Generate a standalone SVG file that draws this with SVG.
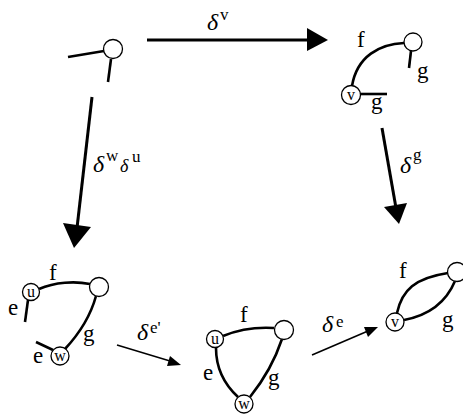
<svg xmlns="http://www.w3.org/2000/svg" width="463" height="415" viewBox="0 0 463 415">
<style>
.n{fill:#fff;stroke:#000;stroke-width:1.3}
.e{fill:none;stroke:#000;stroke-width:2.6;stroke-linecap:butt}
.a{fill:none;stroke:#000;stroke-width:3}
.s{fill:none;stroke:#000;stroke-width:1.6}
.t{font-size:23px}
.c{font-size:16px;text-anchor:middle}
.d{font-style:italic;font-size:24px}
.p{font-size:17px}
</style>
<rect width="463" height="415" fill="#fff"/>
<g font-family="Liberation Serif, serif" fill="#000">
<g id="connectors">
<line class="a" x1="147" y1="40" x2="309" y2="40"/>
<polygon points="307,28 328,40 307,51"/>
<text class="d" x="207" y="30">δ</text><text class="p" x="220" y="20">v</text>
<line class="a" x1="382" y1="128" x2="396" y2="208"/>
<polygon points="384,207 407,203 399,224"/>
<text class="d" x="400" y="173">δ</text><text class="p" x="413" y="160">g</text>
<line class="a" x1="92" y1="97" x2="77" y2="228"/>
<polygon points="63,223 91,227 74,248"/>
<text class="d" x="93" y="172">δ</text><text class="p" x="106" y="161">w</text><text class="d" x="120" y="172" style="font-size:18px">δ</text><text class="p" x="132" y="162">u</text>
<line class="s" x1="117" y1="345" x2="170" y2="361"/>
<polygon points="181,365 167,366 170,356"/>
<text class="d" x="137" y="340">δ</text><text class="p" x="150" y="333">e'</text>
<line class="s" x1="312" y1="355" x2="368" y2="331"/>
<polygon points="378,327 368,337 364,327"/>
<text class="d" x="322" y="332">δ</text><text class="p" x="336" y="327">e</text>
</g>
<g id="g1">
<line class="e" x1="68" y1="57" x2="104" y2="51"/>
<line class="e" x1="111" y1="59" x2="108" y2="82"/>
<circle class="n" cx="113" cy="49" r="9.5"/>
</g>
<g id="g2">
<path class="e" d="M404,43 C380,44 357,56 352,86"/>
<line class="e" x1="411" y1="51" x2="409" y2="68"/>
<line class="e" x1="360" y1="94" x2="387" y2="94"/>
<circle class="n" cx="413" cy="42" r="9"/>
<circle class="n" cx="351" cy="95" r="9.5"/>
<text class="c" x="351" y="100">v</text>
<text class="t" x="357" y="47">f</text>
<text class="t" x="417" y="78">g</text>
<text class="t" x="371" y="109">g</text>
</g>
<g id="g3">
<path class="e" d="M39,289 C55,282 75,281 90,284"/>
<path class="e" d="M96,296 C90,318 78,335 65,349"/>
<line class="e" x1="28" y1="300" x2="25" y2="322"/>
<line class="e" x1="53" y1="350" x2="36" y2="342"/>
<circle class="n" cx="99" cy="287" r="9.5"/>
<circle class="n" cx="31" cy="292" r="8.5"/>
<circle class="n" cx="60" cy="356" r="9"/>
<text class="c" x="31" y="297">u</text>
<text class="c" x="60" y="361">w</text>
<text class="t" x="49" y="280">f</text>
<text class="t" x="8" y="315">e</text>
<text class="t" x="33" y="363">e</text>
<text class="t" x="83" y="341">g</text>
</g>
<g id="g4">
<path class="e" d="M223,336 C240,329 258,327 274,328"/>
<path class="e" d="M216,348 C216,368 225,385 238,397"/>
<path class="e" d="M282,339 C275,360 262,382 250,397"/>
<circle class="n" cx="284" cy="330" r="9.5"/>
<circle class="n" cx="215" cy="339" r="8.5"/>
<circle class="n" cx="244" cy="404" r="9"/>
<text class="c" x="215" y="344">u</text>
<text class="c" x="244" y="409">w</text>
<text class="t" x="240" y="322">f</text>
<text class="t" x="203" y="380">e</text>
<text class="t" x="268" y="385">g</text>
</g>
<g id="g5">
<path class="e" d="M397,313 C402,290 415,278 448,273"/>
<path class="e" d="M404,320 C425,316 445,305 455,281"/>
<circle class="n" cx="457" cy="272" r="9.5"/>
<circle class="n" cx="395" cy="322" r="9"/>
<text class="c" x="395" y="327">v</text>
<text class="t" x="399" y="278">f</text>
<text class="t" x="442" y="327">g</text>
</g>
</g>
</svg>
